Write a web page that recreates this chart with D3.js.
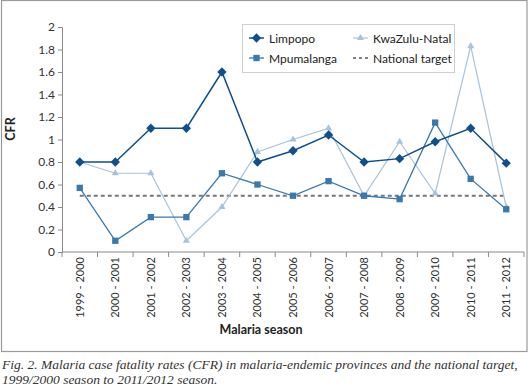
<!DOCTYPE html>
<html><head><meta charset="utf-8">
<script src="https://cdn.jsdelivr.net/npm/d3@7"></script>
<style>
body{margin:0;background:#fff;}
svg{display:block;}
</style></head>
<body>
<svg id="chart" width="529" height="386"></svg>
<script>
const seasons = ["1999 - 2000","2000 - 2001","2001 - 2002","2002 - 2003","2003 - 2004","2004 - 2005","2005 - 2006","2006 - 2007","2007 - 2008","2008 - 2009","2009 - 2010","2010 - 2011","2011 - 2012"];
const limpopo = [0.8,0.8,1.1,1.1,1.6,0.8,0.9,1.04,0.8,0.83,0.98,1.1,0.79];
const mpumalanga = [0.57,0.1,0.31,0.31,0.7,0.6,0.5,0.63,0.5,0.47,1.15,0.65,0.38];
const kwazulu = [0.8,0.7,0.7,0.1,0.4,0.89,1.0,1.1,0.5,0.98,0.52,1.83,0.4];
const nationalTarget = 0.5;
const yTicks = [0,0.2,0.4,0.6,0.8,1,1.2,1.4,1.6,1.8,2];

(function(){
const svg = d3.select("#chart");
const font = "Lato, 'Open Sans', sans-serif";
const pLeft = 62, pRight = 524, pTop = 27, pBottom = 252;

// outer border
svg.append("rect").attr("x",1.5).attr("y",0.5).attr("width",525.5).attr("height",351)
  .attr("fill","none").attr("stroke","#9a9a9a").attr("stroke-width",1.2);

const x = d3.scaleBand().domain(seasons).range([pLeft,pRight]);
const y = d3.scaleLinear().domain([0,2]).range([pBottom,pTop]);

// y axis
const yAxis = svg.append("g").attr("transform",`translate(${pLeft},0)`)
  .call(d3.axisLeft(y).tickValues(yTicks).tickSize(4).tickFormat(d=>String(d)));
yAxis.selectAll("path,line").attr("stroke","#8a8a8a");
yAxis.selectAll("text").attr("font-family",font).attr("font-size",12).attr("fill","#333").attr("x",-7);

// x axis (ticks between categories)
const xg = svg.append("g").attr("transform",`translate(0,${pBottom})`);
xg.append("line").attr("x1",pLeft).attr("x2",pRight).attr("stroke","#8a8a8a");
const bounds = d3.range(seasons.length+1).map(i=> i<seasons.length ? x(seasons[i]) : x(seasons[seasons.length-1])+x.bandwidth());
xg.selectAll("line.tk").data(bounds).join("line").attr("class","tk")
  .attr("x1",d=>d).attr("x2",d=>d).attr("y1",0).attr("y2",5).attr("stroke","#8a8a8a");
xg.selectAll("text").data(seasons).join("text")
  .attr("transform",d=>`translate(${x(d)+x.bandwidth()/2+4},5) rotate(-90)`)
  .attr("text-anchor","end").attr("font-family",font).attr("font-size",11).attr("fill","#333")
  .text(d=>d);

// national target
svg.append("line").attr("x1",x(seasons[0])+x.bandwidth()/2).attr("x2",x(seasons[12])+x.bandwidth()/2)
  .attr("y1",y(nationalTarget)).attr("y2",y(nationalTarget))
  .attr("stroke","#777").attr("stroke-width",2).attr("stroke-dasharray","4,3");

const cx = d=>x(d)+x.bandwidth()/2;
const line = d3.line().x((d,i)=>cx(seasons[i])).y(d=>y(d));

const series = [
  {name:"KwaZulu-Natal", data:kwazulu, color:"#a7c3dc", sym:d3.symbolTriangle, size:22, w:1.2},
  {name:"Mpumalanga", data:mpumalanga, color:"#3a79ae", sym:d3.symbolSquare, size:40, w:1.3},
  {name:"Limpopo", data:limpopo, color:"#0f4f8c", sym:d3.symbolDiamond2, size:55, w:1.5}
];
series.forEach(s=>{
  svg.append("path").datum(s.data).attr("d",line).attr("fill","none")
    .attr("stroke",s.color).attr("stroke-width",s.w);
  svg.selectAll(null).data(s.data).join("path")
    .attr("transform",(d,i)=>`translate(${cx(seasons[i])},${y(d)})`)
    .attr("d",d3.symbol().type(s.sym).size(s.size)).attr("fill",s.color);
});

// legend
const lg = svg.append("g");
lg.append("rect").attr("x",242.5).attr("y",24.5).attr("width",212).attr("height",48)
  .attr("fill","#fff").attr("stroke","#cfcfcf");
const legendItems = [
  {name:"Limpopo", s:series[2], lx:249, ly:38},
  {name:"Mpumalanga", s:series[1], lx:249, ly:58},
  {name:"KwaZulu-Natal", s:series[0], lx:353, ly:38},
  {name:"National target", s:null, lx:353, ly:58}
];
legendItems.forEach(it=>{
  if(it.s){
    lg.append("line").attr("x1",it.lx).attr("x2",it.lx+15).attr("y1",it.ly).attr("y2",it.ly)
      .attr("stroke",it.s.color).attr("stroke-width",it.s.w);
    lg.append("path").attr("transform",`translate(${it.lx+7.5},${it.ly})`)
      .attr("d",d3.symbol().type(it.s.sym).size(it.s.size)).attr("fill",it.s.color);
  } else {
    lg.append("line").attr("x1",it.lx).attr("x2",it.lx+15).attr("y1",it.ly).attr("y2",it.ly)
      .attr("stroke","#555").attr("stroke-width",1.3).attr("stroke-dasharray","3,3");
  }
  lg.append("text").attr("x",it.lx+20).attr("y",it.ly+4.5).attr("font-family",font)
    .attr("font-size",12).attr("fill","#222").text(it.name);
});

// axis titles
svg.append("text").attr("transform","translate(15,129) rotate(-90)").attr("text-anchor","middle")
  .attr("font-family",font).attr("font-size",12.5).attr("font-weight",700).attr("fill","#222").text("CFR");
svg.append("text").attr("x",261).attr("y",334).attr("text-anchor","middle")
  .attr("font-family",font).attr("font-size",12.5).attr("font-weight",700).attr("fill","#222").text("Malaria season");

// caption
const cap = svg.append("text").attr("font-family","'Liberation Serif', 'DejaVu Serif', serif")
  .attr("font-style","italic").attr("font-size",13.5).attr("fill","#333");
cap.append("tspan").attr("x",2).attr("y",369).text("Fig. 2. Malaria case fatality rates (CFR) in malaria-endemic provinces and the national target,");
cap.append("tspan").attr("x",2).attr("y",384).text("1999/2000 season to 2011/2012 season.");
})();
</script>
</body></html>
